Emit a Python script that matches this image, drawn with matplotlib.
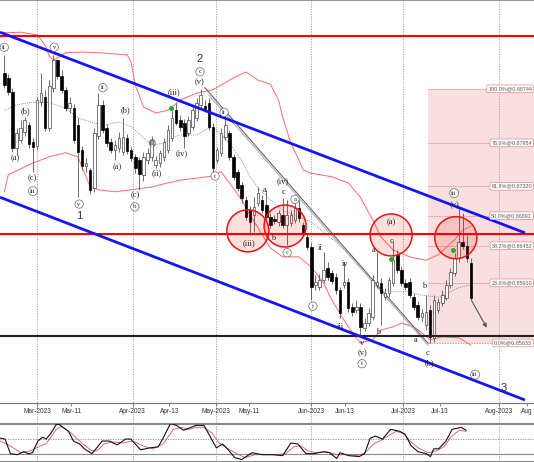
import matplotlib
matplotlib.use("Agg")
import matplotlib.pyplot as plt
import matplotlib.transforms as mtransforms
from matplotlib.patches import Ellipse, Rectangle

# daily candles (bar index 0 = mid Feb 2023), prices
opens = [0.8897, 0.8890, 0.8870, 0.8788, 0.8800, 0.8811, 0.8822, 0.8797, 0.8791, 0.8855,
         0.8862, 0.8817, 0.8876, 0.8916, 0.8893, 0.8873, 0.8846, 0.8846, 0.8822, 0.8785,
         0.8762, 0.8756, 0.8730, 0.8805, 0.8851, 0.8817, 0.8797, 0.8785, 0.8788, 0.8782,
         0.8803, 0.8785, 0.8775, 0.8770, 0.8749, 0.8770, 0.8775, 0.8763, 0.8766, 0.8775,
         0.8785, 0.8803, 0.8843, 0.8829, 0.8824, 0.8810, 0.8819, 0.8832, 0.8851, 0.8849,
         0.8854, 0.8819, 0.8770, 0.8781, 0.8804, 0.8810, 0.8775, 0.8753, 0.8734, 0.8712,
         0.8697, 0.8690, 0.8708, 0.8712, 0.8705, 0.8687, 0.8684, 0.8680, 0.8690, 0.8676,
         0.8678, 0.8683, 0.8700, 0.8676, 0.8658, 0.8643, 0.8588, 0.8585, 0.8595, 0.8613,
         0.8605, 0.8600, 0.8581, 0.8588, 0.8592, 0.8556, 0.8551, 0.8556, 0.8525, 0.8532,
         0.8541, 0.8588, 0.8591, 0.8570, 0.8576, 0.8591, 0.8632, 0.8610, 0.8591, 0.8592,
         0.8570, 0.8559, 0.8541, 0.8530, 0.8551, 0.8511, 0.8551, 0.8562, 0.8569, 0.8588,
         0.8605, 0.8627, 0.8651, 0.8645, 0.8620]
highs = [0.8924, 0.8896, 0.8876, 0.8817, 0.8829, 0.8833, 0.8826, 0.8803, 0.8862, 0.8897,
         0.8873, 0.8887, 0.8924, 0.8918, 0.8902, 0.8877, 0.8862, 0.8852, 0.8832, 0.8791,
         0.8773, 0.8759, 0.8817, 0.8868, 0.8858, 0.8823, 0.8803, 0.8800, 0.8811, 0.8832,
         0.8808, 0.8789, 0.8779, 0.8775, 0.8782, 0.8788, 0.8805, 0.8776, 0.8785, 0.8803,
         0.8822, 0.8846, 0.8854, 0.8836, 0.8830, 0.8835, 0.8851, 0.8861, 0.8874, 0.8858,
         0.8861, 0.8824, 0.8789, 0.8817, 0.8840, 0.8814, 0.8779, 0.8757, 0.8738, 0.8718,
         0.8703, 0.8716, 0.8731, 0.8719, 0.8727, 0.8693, 0.8690, 0.8697, 0.8715, 0.8712,
         0.8697, 0.8716, 0.8712, 0.8680, 0.8664, 0.8649, 0.8603, 0.8604, 0.8636, 0.8621,
         0.8610, 0.8605, 0.8585, 0.8621, 0.8598, 0.8562, 0.8566, 0.8562, 0.8540, 0.8554,
         0.8603, 0.8636, 0.8598, 0.8584, 0.8600, 0.8654, 0.8639, 0.8616, 0.8597, 0.8598,
         0.8576, 0.8565, 0.8553, 0.8573, 0.8559, 0.8573, 0.8569, 0.8581, 0.8595, 0.8613,
         0.8635, 0.8702, 0.8693, 0.8661, 0.8627]
lows = [0.8876, 0.8865, 0.8782, 0.8778, 0.8795, 0.8805, 0.8788, 0.8753, 0.8785, 0.8849,
        0.8813, 0.8813, 0.8870, 0.8889, 0.8868, 0.8842, 0.8839, 0.8795, 0.8716, 0.8756,
        0.8753, 0.8721, 0.8724, 0.8801, 0.8810, 0.8789, 0.8781, 0.8770, 0.8782, 0.8778,
        0.8779, 0.8769, 0.8751, 0.8727, 0.8740, 0.8765, 0.8769, 0.8759, 0.8760, 0.8769,
        0.8781, 0.8798, 0.8822, 0.8813, 0.8788, 0.8805, 0.8814, 0.8827, 0.8846, 0.8840,
        0.8814, 0.8753, 0.8766, 0.8776, 0.8800, 0.8770, 0.8741, 0.8725, 0.8708, 0.8683,
        0.8661, 0.8665, 0.8703, 0.8693, 0.8683, 0.8671, 0.8677, 0.8674, 0.8671, 0.8646,
        0.8674, 0.8678, 0.8680, 0.8659, 0.8639, 0.8566, 0.8581, 0.8581, 0.8591, 0.8595,
        0.8589, 0.8575, 0.8540, 0.8584, 0.8548, 0.8543, 0.8547, 0.8515, 0.8521, 0.8528,
        0.8537, 0.8584, 0.8530, 0.8566, 0.8570, 0.8586, 0.8605, 0.8586, 0.8581, 0.8569,
        0.8551, 0.8537, 0.8535, 0.8522, 0.8503, 0.8505, 0.8547, 0.8557, 0.8566, 0.8584,
        0.8601, 0.8621, 0.8640, 0.8621, 0.8566]
closes = [0.8880, 0.8870, 0.8788, 0.8810, 0.8817, 0.8829, 0.8794, 0.8789, 0.8858, 0.8868,
          0.8817, 0.8878, 0.8916, 0.8893, 0.8873, 0.8846, 0.8854, 0.8800, 0.8782, 0.8762,
          0.8766, 0.8727, 0.8810, 0.8851, 0.8814, 0.8795, 0.8785, 0.8792, 0.8803, 0.8804,
          0.8784, 0.8773, 0.8759, 0.8750, 0.8775, 0.8781, 0.8800, 0.8770, 0.8781, 0.8797,
          0.8814, 0.8832, 0.8824, 0.8819, 0.8805, 0.8829, 0.8843, 0.8854, 0.8865, 0.8843,
          0.8819, 0.8759, 0.8785, 0.8810, 0.8822, 0.8775, 0.8746, 0.8730, 0.8715, 0.8687,
          0.8680, 0.8702, 0.8722, 0.8697, 0.8687, 0.8676, 0.8681, 0.8693, 0.8676, 0.8690,
          0.8690, 0.8700, 0.8686, 0.8664, 0.8643, 0.8585, 0.8592, 0.8595, 0.8610, 0.8600,
          0.8594, 0.8581, 0.8547, 0.8592, 0.8554, 0.8548, 0.8556, 0.8527, 0.8532, 0.8547,
          0.8595, 0.8592, 0.8576, 0.8576, 0.8595, 0.8624, 0.8610, 0.8591, 0.8585, 0.8573,
          0.8556, 0.8541, 0.8547, 0.8548, 0.8512, 0.8566, 0.8563, 0.8573, 0.8588, 0.8607,
          0.8627, 0.8651, 0.8645, 0.8627, 0.8569]

# bollinger band, read at a number of bars
upper_idx = [0, 4, 8, 10, 11, 12, 15, 19, 23, 30, 31, 32, 34, 37, 40, 43, 47, 51, 55, 59, 62,
             65, 67, 68, 70, 72, 73, 75, 80, 84, 87, 88, 90, 92, 95, 99, 103, 106, 108, 110, 112, 114]
upper_val = [0.8956, 0.8957, 0.8953, 0.8938, 0.8922, 0.8916, 0.8927, 0.8928, 0.8927, 0.8924, 0.8913,
             0.8880, 0.8848, 0.8839, 0.8843, 0.8858, 0.8868, 0.8873, 0.8887, 0.8899, 0.8887,
             0.8881, 0.8858, 0.8833, 0.8795, 0.8770, 0.8756, 0.8751, 0.8746, 0.8737, 0.8716,
             0.8705, 0.8683, 0.8658, 0.8639, 0.8629, 0.8624, 0.8632, 0.8643, 0.8654, 0.8668, 0.8674]
mid_idx = [0, 3, 7, 11, 14, 15, 18, 22, 25, 28, 31, 34, 36, 39, 41, 43, 47, 49, 51, 55, 58, 60,
           62, 65, 68, 72, 75, 78, 82, 87, 92, 95, 99, 102, 106, 109, 111, 114]
mid_val = [0.8843, 0.8851, 0.8855, 0.8854, 0.8848, 0.8846, 0.8832, 0.8824, 0.8822, 0.8826, 0.8819,
           0.8803, 0.8792, 0.8795, 0.8803, 0.8807, 0.8807, 0.8814, 0.8819, 0.8795, 0.8770, 0.8746,
           0.8730, 0.8712, 0.8697, 0.8687, 0.8680, 0.8665, 0.8646, 0.8617, 0.8581, 0.8578, 0.8578,
           0.8573, 0.8570, 0.8578, 0.8584, 0.8588]
lower_idx = [0, 1, 7, 11, 15, 18, 19, 21, 23, 27, 31, 36, 40, 43, 47, 51, 53, 55, 58, 60, 62, 65,
             68, 72, 73, 75, 78, 80, 84, 87, 90, 92, 95, 97, 100, 102, 104, 107, 111, 114]
lower_val = [0.8724, 0.8749, 0.8766, 0.8775, 0.8781, 0.8775, 0.8760, 0.8731, 0.8727, 0.8724, 0.8727,
             0.8731, 0.8737, 0.8741, 0.8744, 0.8747, 0.8753, 0.8737, 0.8712, 0.8690, 0.8671, 0.8642,
             0.8629, 0.8629, 0.8624, 0.8614, 0.8591, 0.8566, 0.8527, 0.8503, 0.8508, 0.8522, 0.8527,
             0.8532, 0.8527, 0.8518, 0.8508, 0.8512, 0.8511, 0.8500]

# stochastic oscillator (%K black, %D red)
k_idx = [-1.0, 0.2, 1.5, 3.2, 4.7, 5.9, 6.9, 8.2, 9.4, 10.2, 11.4, 12.7, 13.4, 15.7, 16.9, 18.4,
         19.6, 21.4, 22.6, 23.9, 25.6, 27.6, 29.6, 30.9, 33.3, 35.6, 37.6, 38.8, 40.6, 42.1, 43.8,
         45.6, 46.8, 48.8, 50.5, 51.8, 53.3, 54.5, 56.3, 58.0, 60.5, 63.0, 65.5, 68.0, 70.0, 71.7,
         73.7, 75.5, 78.0, 79.5, 81.2, 82.0, 84.2, 86.7, 88.0, 89.4, 90.7, 92.4, 94.4, 96.6, 97.9,
         99.4, 101.1, 103.1, 104.1, 104.9, 106.1, 107.9, 109.4, 111.6, 112.8]
k_val = [52, 50, 20, 18, 24, 20, 22, 46, 54, 50, 62, 80, 80, 66, 46, 40, 30, 20, 32, 46,
         46, 38, 50, 50, 28, 32, 34, 52, 82, 78, 68, 74, 78, 78, 52, 32, 40, 30, 12, 8,
         22, 18, 18, 16, 42, 40, 20, 20, 24, 22, 10, 22, 16, 14, 20, 52, 56, 50, 70, 66,
         60, 36, 24, 20, 14, 30, 30, 46, 70, 74, 68]
d_idx = [-1.0, 1.5, 4.0, 6.4, 8.9, 10.2, 12.7, 13.9, 16.4, 18.9, 21.4, 22.6, 24.4, 26.4, 28.9,
         31.4, 33.9, 36.3, 38.8, 41.3, 43.3, 45.1, 46.8, 48.8, 50.8, 52.5, 54.3, 56.3, 58.8, 61.3,
         63.8, 66.3, 68.7, 70.7, 72.5, 74.2, 76.2, 78.7, 81.2, 83.7, 86.2, 88.2, 90.2, 91.7, 93.7,
         95.7, 97.4, 99.1, 101.1, 103.6, 105.6, 107.4, 109.1, 111.1, 112.8]
d_val = [46, 36, 22, 26, 36, 40, 70, 76, 62, 42, 26, 26, 40, 44, 42, 46, 36, 30, 40, 70,
         74, 70, 74, 74, 62, 42, 32, 22, 12, 18, 18, 18, 20, 34, 36, 26, 22, 24, 18, 18,
         16, 22, 40, 46, 56, 66, 62, 46, 32, 22, 26, 34, 54, 68, 66]

# date axis
tick_pos = [8.1, 16.4, 31.4, 40.3, 51.8, 59.9, 75.0, 83.3, 97.4, 106.4, 120.8, 127.7]
tick_labels = ["Mar-2023", "Mar-11", "Apr-2023", "Apr-13", "May-2023", "May-11",
               "Jun-2023", "Jun-13", "Jul-2023", "Jul-13", "Aug-2023", "Aug"]
month_pos = [8.1, 31.4, 51.8, 75.0, 97.4, 120.8]

# fibonacci retracement from the 0.8503 low
fib_start = 103.5
fib_pct = ["0.0%", "23.6%", "38.2%", "50.0%", "61.8%", "78.6%", "100.0%"]
fib_price = [0.85033, 0.85910, 0.86452, 0.86891, 0.87320, 0.87954, 0.88744]

# drawn levels / channel
red_levels = [0.8952, 0.8663]
support = 0.8513
channel_x = [-1.04, 127.2]
channel_top = [0.8957, 0.8664]
channel_bottom = [0.8716, 0.8420]
trend_a = ([49.0, 103.5], [0.8876, 0.8503])
trend_b = ([50.0, 103.5], [0.8865, 0.8500])
circles = [(59.5, 0.8667), (68.6, 0.8674), (94.5, 0.8661), (110.3, 0.8657)]
green_marks = ([40.7, 94.5, 109.6], [0.8846, 0.8626, 0.8639])
arrow_from = (113.8, 0.8569)
arrow_to = (118.2, 0.8522)

# elliott wave labels: text, bar, price, kind (c = circled, p = plain, n = degree number)
wave_labels = [
    ("ii", 0.0, 0.8935, "c"), ("(a)", 2.6, 0.8773, "p"), ("(b)", 5.1, 0.8842, "p"),
    ("(c)", 6.8, 0.8744, "p"), ("iii", 7.0, 0.8725, "c"), ("v", 12.2, 0.8935, "c"),
    ("v", 18.3, 0.8706, "c"), ("1", 18.3, 0.8689, "n"), ("ii", 24.1, 0.8876, "c"),
    ("(a)", 27.5, 0.8760, "p"), ("(b)", 29.5, 0.8843, "p"), ("(c)", 31.9, 0.8719, "p"),
    ("b", 31.9, 0.8702, "c"), ("(i)", 36.3, 0.8797, "p"), ("(ii)", 37.3, 0.8751, "p"),
    ("(iii)", 41.5, 0.8870, "p"), ("(iv)", 43.4, 0.8781, "p"), ("(v)", 47.8, 0.8884, "p"),
    ("c", 47.8, 0.8899, "c"), ("2", 47.8, 0.8918, "n"), ("i", 51.5, 0.8747, "c"),
    ("ii", 53.7, 0.8840, "c"), ("(iii)", 59.8, 0.8649, "p"), ("a", 63.7, 0.8727, "p"),
    ("b", 65.6, 0.8657, "p"), ("(iv)", 68.1, 0.8740, "p"), ("c", 68.1, 0.8724, "p"),
    ("c", 69.1, 0.8635, "c"), ("a", 71.0, 0.8713, "c"), ("i", 75.4, 0.8557, "c"),
    ("ii", 77.1, 0.8642, "p"), ("iv", 83.2, 0.8619, "p"), ("iii", 82.0, 0.8527, "p"),
    ("v", 87.4, 0.8503, "p"), ("(v)", 87.4, 0.8489, "p"), ("i", 87.4, 0.8473, "c"),
    ("a", 90.3, 0.8639, "p"), ("b", 91.3, 0.8519, "p"), ("(a)", 94.5, 0.8680, "p"),
    ("c", 94.5, 0.8652, "p"), ("a", 100.6, 0.8508, "p"), ("b", 102.5, 0.8586, "p"),
    ("c", 103.5, 0.8489, "p"), ("(b)", 103.8, 0.8474, "p"), ("(v)", 109.9, 0.8704, "p"),
    ("iii", 109.9, 0.8722, "c"), ("iii", 115.0, 0.8457, "c"), ("3", 122.1, 0.8438, "n"),
]


def draw_candles(ax):
    """draws white up candles and black down candles"""
    for i in range(len(opens)):
        o, h, l, c = opens[i], highs[i], lows[i], closes[i]
        up = c >= o
        ax.vlines(i, l, h, color="#555555", lw=0.6, zorder=3)
        ax.bar(i, max(abs(c - o), 0.00012), bottom=min(o, c), width=0.62,
               color="white" if up else "black",
               edgecolor="#444444" if up else "black", linewidth=0.5, zorder=4)


def main():
    fig = plt.figure(figsize=(5.34, 4.62), dpi=100)
    ax = fig.add_axes([0, 59 / 462, 1, 403 / 462])
    osc = fig.add_axes([0, 1 / 462, 1, 38 / 462])
    x_lo, x_hi = -1.04, 129.4

    ax.set_xlim(x_lo, x_hi)
    ax.set_ylim(0.84156, 0.9004)

    # fib zone
    ax.add_patch(Rectangle((fib_start, fib_price[0]), x_hi - fib_start + 2,
                           fib_price[-1] - fib_price[0], facecolor="#f9dfdf",
                           edgecolor="none", zorder=0))
    for pct, price in zip(fib_pct, fib_price):
        ax.plot([fib_start, x_hi], [price, price], color="#e48a8a", lw=0.6,
                ls=(0, (2, 1.2)), zorder=1)
        ax.text(128.9, price, "%s@%.5f" % (pct, price), ha="right", va="center",
                fontsize=3.9, family="Liberation Sans", color="#555555", zorder=9,
                bbox=dict(boxstyle="round,pad=0.25", fc="white", ec="#e08a8a", lw=0.5))

    # month grid lines run through every panel
    trans = mtransforms.blended_transform_factory(ax.transData, fig.transFigure)
    for m in month_pos:
        ax.plot([m, m], [0, 1], transform=trans, color="#9a9a9a", lw=0.6,
                ls=(0, (1.5, 1.5)), clip_on=False, zorder=1)

    # bollinger bands
    ax.plot(upper_idx, upper_val, color="#ff6a6a", lw=0.7, zorder=2)
    ax.plot(lower_idx, lower_val, color="#ff6a6a", lw=0.7, zorder=2)
    ax.plot(mid_idx, mid_val, color="#8a8a8a", lw=0.6, ls=(0, (1.2, 1.2)), zorder=2)

    # trend lines
    ax.plot(*trend_a, color="#666666", lw=0.8, zorder=2.5)
    ax.plot(*trend_b, color="#b0b0b0", lw=0.8, zorder=2.5)

    draw_candles(ax)

    # horizontal levels
    for lvl in red_levels:
        ax.axhline(lvl, color="#ff0000", lw=1.5, zorder=5)
    ax.axhline(support, color="#222222", lw=1.5, zorder=5)

    # circles round the reaction zones
    for cx, cy in circles:
        ax.add_patch(Ellipse((cx, cy), 10.26, 0.00613, facecolor=(1, 0, 0, 0.13),
                             edgecolor="#ee1111", lw=1.1, zorder=6))

    ax.plot(*green_marks, ls="none", marker="o", ms=2.5, color="#22aa22", zorder=6)

    # channel
    ax.plot(channel_x, channel_top, color="#1414ff", lw=2.0, zorder=7, solid_capstyle="butt")
    ax.plot(channel_x, channel_bottom, color="#1414ff", lw=2.0, zorder=7, solid_capstyle="butt")

    ax.annotate("", xy=arrow_to, xytext=arrow_from,
                arrowprops=dict(arrowstyle="-|>", color="#555555", lw=0.8, mutation_scale=6),
                zorder=8)

    for txt, bx, py, kind in wave_labels:
        if kind == "c":
            ax.text(bx, py, txt, ha="center", va="center", fontsize=4.8,
                    family="Liberation Serif", color="#222222", zorder=8,
                    bbox=dict(boxstyle="circle,pad=0.25", fc="white", ec="#666666", lw=0.5))
        elif kind == "n":
            ax.text(bx, py, txt, ha="center", va="center", fontsize=8,
                    family="Liberation Sans", color="#333333", zorder=8)
        else:
            ax.text(bx, py, txt, ha="center", va="center", fontsize=6,
                    family="Liberation Serif", color="#222222", zorder=8)

    # axis styling
    ax.set_yticks([])
    ax.set_xticks(tick_pos)
    ax.set_xticklabels(tick_labels, fontsize=4.7, family="Liberation Sans", color="#333333")
    ax.tick_params(axis="x", direction="out", length=2.5, width=0.5, color="#555555", pad=1)
    for side in ["left", "right"]:
        ax.spines[side].set_visible(False)
    ax.spines["top"].set_color("#999999")
    ax.spines["bottom"].set_color("#777777")
    ax.spines["bottom"].set_linewidth(0.8)

    # oscillator panel
    osc.set_xlim(x_lo, x_hi)
    osc.set_ylim(5, 83)
    osc.patch.set_alpha(0)
    osc.axhline(80, color="#8a8a8a", lw=0.8)
    osc.axhline(20, color="#8a8a8a", lw=0.8)
    osc.axhline(50, color="#8a8a8a", lw=0.6, ls=(0, (1.5, 1.5)))
    osc.plot(d_idx, d_val, color="#dd5555", lw=0.6)
    osc.plot(k_idx, k_val, color="#111111", lw=0.8)
    osc.set_xticks([])
    osc.set_yticks([])
    for side in ["left", "right"]:
        osc.spines[side].set_visible(False)
    osc.spines["top"].set_color("#888888")
    osc.spines["bottom"].set_color("#888888")

    fig.savefig("out.png", dpi=100)
    plt.close(fig)


if __name__ == "__main__":
    main()
